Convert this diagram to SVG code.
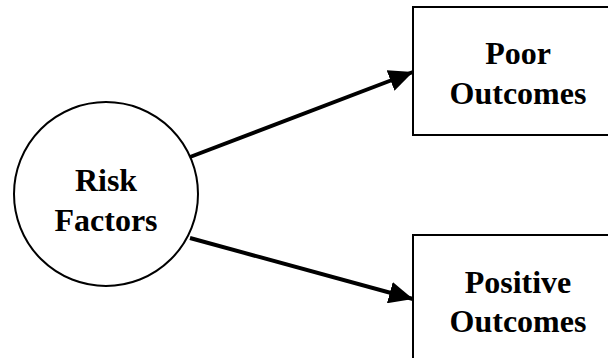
<svg xmlns="http://www.w3.org/2000/svg" width="608" height="358" viewBox="0 0 608 358">
<style>
.shape{fill:#fff;stroke:#000;stroke-width:2}
.lbl{font-family:"Liberation Serif","Times New Roman",serif;font-weight:bold;font-size:32px;text-anchor:middle;fill:#000}
.conn{stroke:#000;stroke-width:4;fill:none}
</style>
<defs>
<marker id="ah" markerUnits="userSpaceOnUse" markerWidth="26" markerHeight="22" refX="24" refY="11" orient="auto">
<path d="M0,0 L24,11 L0,22 Z" fill="#000"/>
</marker>
</defs>
<rect width="608" height="358" fill="#fff"/>
<g id="connectors">
<line class="conn" x1="190" y1="157" x2="413" y2="72" marker-end="url(#ah)"/>
<line class="conn" x1="190" y1="238" x2="413" y2="299" marker-end="url(#ah)"/>
</g>
<g id="risk">
<circle class="shape" cx="106" cy="194" r="92"/>
<text class="lbl" x="106" y="191">Risk</text>
<text class="lbl" x="106" y="231">Factors</text>
</g>
<g id="poor">
<rect class="shape" x="413" y="7" width="210" height="128"/>
<text class="lbl" x="518" y="64">Poor</text>
<text class="lbl" x="518" y="104">Outcomes</text>
</g>
<g id="positive">
<rect class="shape" x="413" y="235" width="210" height="140"/>
<text class="lbl" x="518" y="293">Positive</text>
<text class="lbl" x="518" y="332">Outcomes</text>
</g>
</svg>
